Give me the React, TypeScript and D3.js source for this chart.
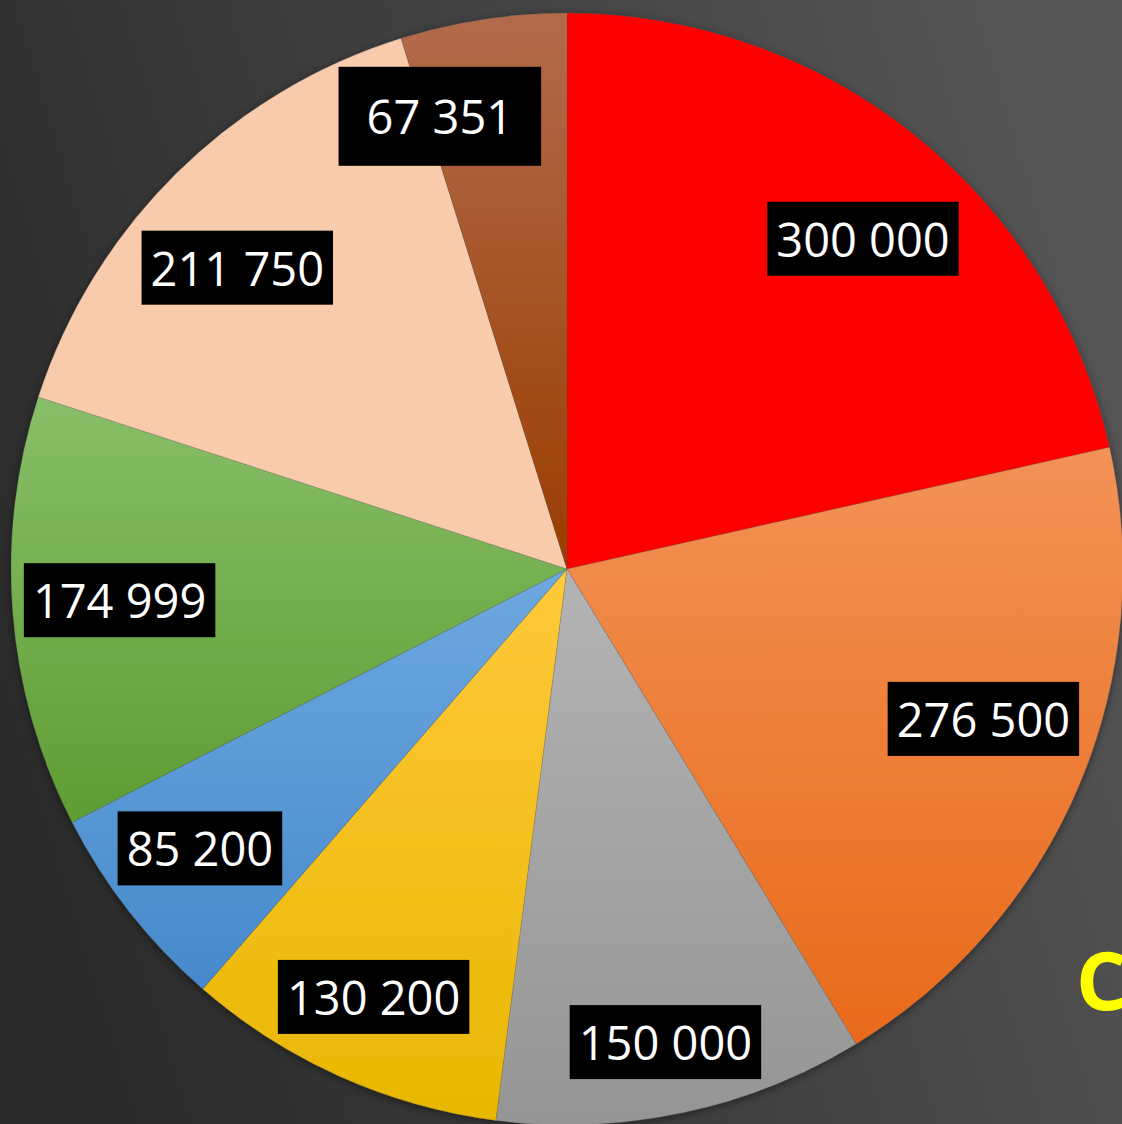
import React, { useEffect, useRef } from "react";
import * as d3 from "d3";

const categories = ["A", "B", "C", "D", "E", "F", "G", "H"];
const values = [300000, 276500, 150000, 130200, 85200, 174999, 211750, 67351];
const valueLabels = ["300 000", "276 500", "150 000", "130 200", "85 200", "174 999", "211 750", "67 351"];
const topColors = ["#FF0000", "#F39256", "#B4B4B4", "#FFC93C", "#6EA8E0", "#88BF68", "#F8CBAD", "#B26B4C"];
const bottomColors = ["#FF0000", "#E86A1A", "#959595", "#E8B700", "#4689CB", "#5E9C33", "#F8CBAD", "#9A3D00"];

// label layout nudges (px) from the 0.8r centroid
const labelNudge: [number, number][] = [
  [18, 17], [7, -24], [6, 38], [-11.5, 22], [-17, 5], [-4, -4], [-17, 15], [-60, -13],
];
const labelPad: [number, number][] = [
  [9, 74], [9, 74], [9, 74], [9, 74], [9, 74], [9, 74], [9, 74], [28, 99],
];

const W = 1122;
const H = 1124;
const CX = 567;
const CY = 569;
const R = 556;

export default function App() {
  const ref = useRef<SVGSVGElement>(null);

  useEffect(() => {
    const svg = d3.select(ref.current);
    svg.selectAll("*").remove();
    const defs = svg.append("defs");

    const bg = defs
      .append("linearGradient")
      .attr("id", "bg")
      .attr("gradientUnits", "userSpaceOnUse")
      .attr("x1", 0)
      .attr("y1", H * 0.65)
      .attr("x2", W)
      .attr("y2", H * 0.35);
    bg.append("stop").attr("offset", 0).attr("stop-color", "#2a2a2a");
    bg.append("stop").attr("offset", 1).attr("stop-color", "#555555");

    categories.forEach((c, i) => {
      const g = defs
        .append("linearGradient")
        .attr("id", "sl" + i)
        .attr("x1", 0)
        .attr("y1", 0)
        .attr("x2", 0)
        .attr("y2", 1);
      g.append("stop").attr("offset", 0).attr("stop-color", topColors[i]);
      g.append("stop").attr("offset", 1).attr("stop-color", bottomColors[i]);
    });

    const f = defs
      .append("filter")
      .attr("id", "sh")
      .attr("x", "-10%")
      .attr("y", "-10%")
      .attr("width", "120%")
      .attr("height", "120%");
    f.append("feDropShadow")
      .attr("dx", 0)
      .attr("dy", 2)
      .attr("stdDeviation", 4)
      .attr("flood-color", "#000")
      .attr("flood-opacity", 0.45);

    svg.append("rect").attr("width", W).attr("height", H).attr("fill", "url(#bg)");

    const pie = d3.pie<number>().sort(null).value((d) => d);
    const arcs = pie(values);
    const arc = d3.arc<d3.PieArcDatum<number>>().innerRadius(0).outerRadius(R);

    const g = svg.append("g").attr("transform", `translate(${CX},${CY})`);
    const pg = g.append("g").attr("filter", "url(#sh)");
    pg.selectAll("path")
      .data(arcs)
      .join("path")
      .attr("d", arc)
      .attr("fill", (_d, i) => `url(#sl${i})`)
      .attr("stroke", "rgba(90,90,90,0.35)")
      .attr("stroke-width", 0.6);

    const labelArc = d3.arc<d3.PieArcDatum<number>>().innerRadius(R * 0.8).outerRadius(R * 0.8);

    arcs.forEach((a, i) => {
      const [x0, y0] = labelArc.centroid(a);
      const x = x0 + labelNudge[i][0];
      const y = y0 + labelNudge[i][1];
      const lg = g.append("g").attr("transform", `translate(${x},${y})`);
      const rect = lg.append("rect").attr("fill", "#000");
      const t = lg
        .append("text")
        .attr("text-anchor", "middle")
        .attr("dominant-baseline", "central")
        .attr("font-family", "'Open Sans', 'Noto Sans', sans-serif")
        .attr("font-size", 47)
        .attr("fill", "#fff")
        .text(valueLabels[i]);
      const tw = (t.node() as SVGTextElement).getComputedTextLength();
      const bw = tw + labelPad[i][0] * 2;
      const bh = labelPad[i][1];
      rect.attr("x", -bw / 2).attr("y", -bh / 2).attr("width", bw).attr("height", bh);
    });

    svg
      .append("text")
      .attr("x", 1076)
      .attr("y", 1010)
      .attr("font-family", "'Open Sans', 'Noto Sans', sans-serif")
      .attr("font-weight", "bold")
      .attr("font-size", 80)
      .attr("fill", "#FFFF00")
      .text("C");
  }, []);

  return (
    <svg
      ref={ref}
      width={W}
      height={H}
      style={{ position: "absolute", left: 0, top: 0, display: "block" }}
    />
  );
}
